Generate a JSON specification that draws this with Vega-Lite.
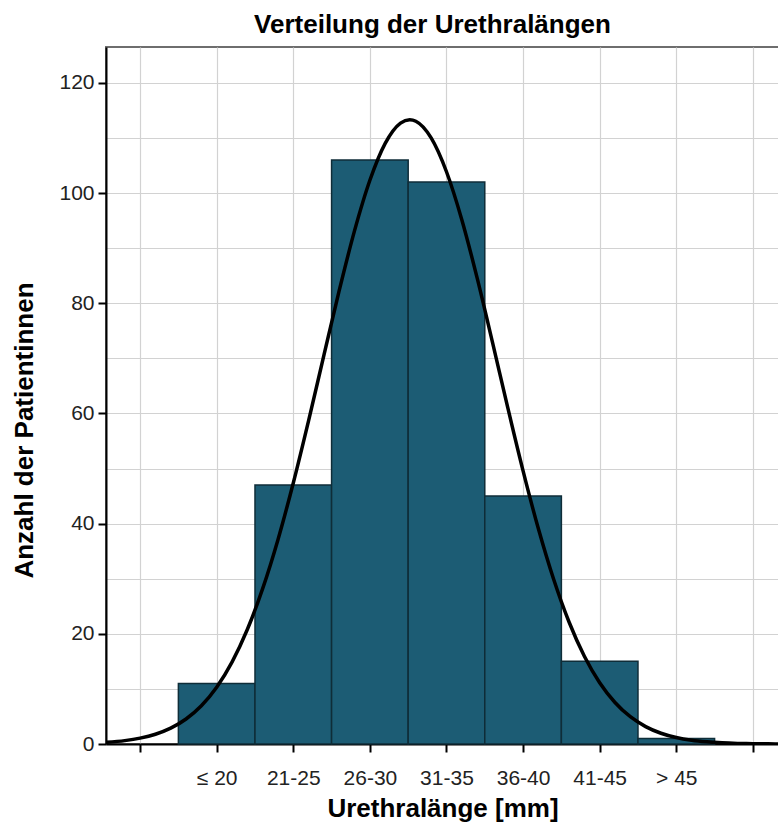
{
  "$schema": "https://vega.github.io/schema/vega-lite/v6.json",
  "autosize": "none",
  "width": 673,
  "height": 697,
  "padding": {"left": 106, "top": 47, "right": 0, "bottom": 82},
  "background": "white",
  "title": {
    "text": "Verteilung der Urethralängen",
    "font": "Liberation Sans",
    "fontSize": 26,
    "fontWeight": "bold",
    "color": "#000000",
    "anchor": "middle",
    "frame": "group",
    "dx": -10,
    "offset": 9
  },
  "config": {
    "view": {"stroke": "#6e6e6e", "strokeWidth": 2},
    "axis": {
      "domainColor": "#000000",
      "domainWidth": 2,
      "tickColor": "#000000",
      "tickWidth": 2,
      "tickSize": 8,
      "labelFont": "Liberation Sans",
      "labelFontSize": 21,
      "labelColor": "#222222",
      "titleFont": "Liberation Sans",
      "titleFontSize": 26,
      "titleFontWeight": "bold",
      "titleColor": "#000000",
      "gridColor": "#d2d2d2",
      "gridWidth": 1.2
    }
  },
  "layer": [
    {
      "data": {
        "values": [
          {"bin": "≤ 20", "lo": 15.5, "hi": 20.5, "count": 11},
          {"bin": "21-25", "lo": 20.5, "hi": 25.5, "count": 47},
          {"bin": "26-30", "lo": 25.5, "hi": 30.5, "count": 106},
          {"bin": "31-35", "lo": 30.5, "hi": 35.5, "count": 102},
          {"bin": "36-40", "lo": 35.5, "hi": 40.5, "count": 45},
          {"bin": "41-45", "lo": 40.5, "hi": 45.5, "count": 15},
          {"bin": "> 45", "lo": 45.5, "hi": 50.5, "count": 1}
        ]
      },
      "mark": {"type": "bar", "fill": "#1c5c74", "stroke": "#0f2d38", "strokeWidth": 1.5},
      "encoding": {
        "x": {
          "field": "lo",
          "type": "quantitative",
          "scale": {"domain": [10.775, 54.705], "nice": false, "zero": false},
          "axis": {
            "title": "Urethralänge [mm]",
            "values": [13, 18, 23, 28, 33, 38, 43, 48, 53],
            "labelExpr": "['', '≤ 20', '21-25', '26-30', '31-35', '36-40', '41-45', '> 45', ''][round((datum.value - 13) / 5)]",
            "labelPadding": 15,
            "titlePadding": 7,
            "grid": true
          }
        },
        "x2": {"field": "hi"},
        "y": {
          "field": "count",
          "type": "quantitative",
          "scale": {"domain": [0, 126.5], "nice": false},
          "axis": {
            "title": "Anzahl der Patientinnen",
            "values": [0, 10, 20, 30, 40, 50, 60, 70, 80, 90, 100, 110, 120],
            "labelExpr": "datum.value % 20 === 0 ? datum.label : ''",
            "tickOpacity": {"condition": {"test": "datum.value % 20 !== 0", "value": 0}, "value": 1},
            "labelPadding": 4,
            "grid": true,
            "titleX": -82,
            "titleY": 383,
            "titleAngle": 270,
            "titleAlign": "center",
            "titleBaseline": "middle"
          }
        },
        "y2": {"datum": 0}
      }
    },
    {
      "data": {
        "values": [
          {"mm": 10.8, "density": 0.30},
          {"mm": 12, "density": 0.61},
          {"mm": 13, "density": 1.06},
          {"mm": 14, "density": 1.77},
          {"mm": 15, "density": 2.87},
          {"mm": 16, "density": 4.54},
          {"mm": 17, "density": 6.95},
          {"mm": 18, "density": 10.31},
          {"mm": 19, "density": 14.87},
          {"mm": 20, "density": 20.78},
          {"mm": 21, "density": 28.19},
          {"mm": 22, "density": 37.09},
          {"mm": 23, "density": 47.38},
          {"mm": 24, "density": 58.70},
          {"mm": 25, "density": 70.57},
          {"mm": 26, "density": 82.32},
          {"mm": 27, "density": 93.17},
          {"mm": 28, "density": 102.31},
          {"mm": 29, "density": 109.01},
          {"mm": 30, "density": 112.69},
          {"mm": 30.6, "density": 113.3},
          {"mm": 31, "density": 113.03},
          {"mm": 32, "density": 110.0},
          {"mm": 33, "density": 103.86},
          {"mm": 34, "density": 95.16},
          {"mm": 35, "density": 84.59},
          {"mm": 36, "density": 72.95},
          {"mm": 37, "density": 61.05},
          {"mm": 38, "density": 49.57},
          {"mm": 39, "density": 39.05},
          {"mm": 40, "density": 29.85},
          {"mm": 41, "density": 22.14},
          {"mm": 42, "density": 15.93},
          {"mm": 43, "density": 11.12},
          {"mm": 44, "density": 7.54},
          {"mm": 45, "density": 4.95},
          {"mm": 46, "density": 3.16},
          {"mm": 47, "density": 1.95},
          {"mm": 48, "density": 1.17},
          {"mm": 49, "density": 0.68},
          {"mm": 50, "density": 0.39},
          {"mm": 51, "density": 0.21},
          {"mm": 52, "density": 0.11},
          {"mm": 53, "density": 0.06},
          {"mm": 54, "density": 0.03},
          {"mm": 55, "density": 0.01}
        ]
      },
      "mark": {"type": "line", "interpolate": "monotone", "color": "#000000", "strokeWidth": 3.5, "clip": true},
      "encoding": {
        "x": {"field": "mm", "type": "quantitative"},
        "y": {"field": "density", "type": "quantitative"}
      }
    }
  ]
}
